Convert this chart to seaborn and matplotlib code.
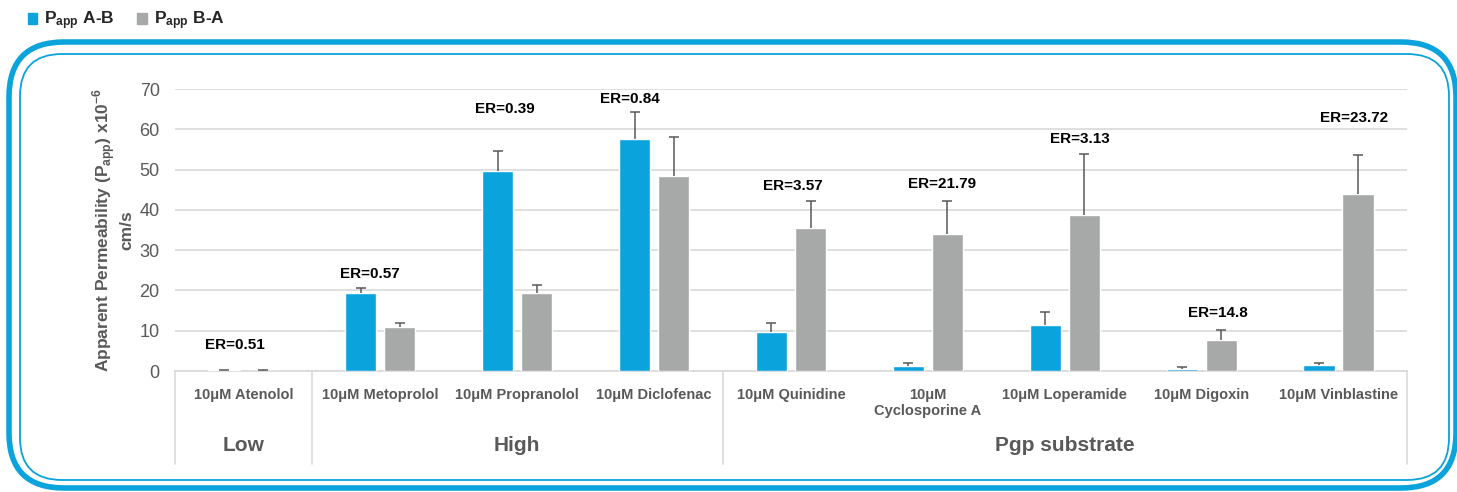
import numpy as np
import pandas as pd
import seaborn as sns
import matplotlib
matplotlib.use('Agg')
import matplotlib.pyplot as plt
from matplotlib.patches import FancyBboxPatch, Patch
from matplotlib import transforms

# 数据
compounds = ['10μM Atenolol', '10μM Metoprolol', '10μM Propranolol', '10μM Diclofenac',
             '10μM Quinidine', '10μM\nCyclosporine A', '10μM Loperamide', '10μM Digoxin',
             '10μM Vinblastine']
groups = ['Low', 'High', 'Pgp substrate']
group_size = [1, 3, 5]
papp_ab = [0.2, 19.4, 49.7, 57.5, 9.8, 1.3, 11.4, 0.4, 1.6]
papp_ab_err = [0.1, 1.3, 4.9, 6.7, 2.2, 0.8, 3.35, 0.5, 0.3]
papp_ba = [0.1, 11.0, 19.3, 48.5, 35.6, 34.0, 38.8, 7.8, 43.9]
papp_ba_err = [0.05, 0.8, 2.0, 9.5, 6.5, 8.3, 15.0, 2.4, 9.7]
er_values = ['0.51', '0.57', '0.39', '0.84', '3.57', '21.79', '3.13', '14.8', '23.72']
directions = ['A-B', 'B-A']

# ER标签位置(手动)
er_y = [6.4, 24.2, 65.0, 67.5, 46.0, 46.3, 57.5, 14.5, 62.8]
er_dx = [-0.06, -0.08, -0.09, -0.18, 0.01, 0.10, 0.11, 0.12, 0.11]

blue = '#0ba3db'
gray = '#a7a9a9'
txt = '#595959'
line_c = '#d9d9d9'

df = pd.DataFrame({
    'compound': compounds * 2,
    'papp': papp_ab + papp_ba,
    'direction': [directions[0]] * len(compounds) + [directions[1]] * len(compounds),
})

sns.set_style('white')
plt.rcParams['font.family'] = ['Liberation Sans Narrow', 'Liberation Sans', 'DejaVu Sans']
plt.rcParams['mathtext.fontset'] = 'custom'
plt.rcParams['mathtext.rm'] = 'Liberation Sans'
plt.rcParams['mathtext.bf'] = 'Liberation Sans:bold'

fig = plt.figure(figsize=(14.57, 4.92), dpi=100)
ax = fig.add_axes([175 / 1457, 1 - 371 / 492, (1407 - 175) / 1457, (371 - 89) / 492])

sns.barplot(data=df, x='compound', y='papp', hue='direction', palette=[blue, gray],
            saturation=1, width=0.57, gap=0.2, errorbar=None, legend=False, ax=ax, zorder=3)

# 误差线(只向上)
for cont, err in zip(ax.containers, [papp_ab_err, papp_ba_err]):
    xs = [b.get_x() + b.get_width() / 2 for b in cont]
    ys = [b.get_height() for b in cont]
    eb = ax.errorbar(xs, ys, yerr=[np.zeros(len(err)), err], fmt='none', ecolor=txt,
                     elinewidth=1.1, capsize=3.5, capthick=1.1, zorder=4)
    eb[1][0].set_visible(False)  # 去掉下方的cap

# ER标签
for i, (er, y, dx) in enumerate(zip(er_values, er_y, er_dx)):
    ax.text(i + dx, y, 'ER=' + er, ha='center', va='center', fontsize=11,
            fontweight='bold', color='black')

ax.set_ylim(0, 70)
ax.set_xlim(-0.5, len(compounds) - 0.5)
ax.set_yticks(range(0, 71, 10))
ax.yaxis.grid(True, color=line_c, lw=1.2)
ax.set_axisbelow(True)
for s in ['left', 'right', 'top']:
    ax.spines[s].set_visible(False)
ax.spines['bottom'].set_color(line_c)
ax.spines['bottom'].set_linewidth(1.2)
ax.tick_params(axis='y', length=0, pad=11, labelsize=13, labelcolor=txt)
ax.tick_params(axis='x', length=0, pad=12, labelsize=10.5, labelcolor=txt)
for lab in ax.get_xticklabels():
    lab.set_fontweight('bold')
ax.set_xlabel('')
ax.set_ylabel('Apparent Permeability (P$_{\\mathbf{app}}$) x10$^{\\mathbf{-6}}$\ncm/s',
              fontsize=12.5, fontweight='bold', color=txt, labelpad=4, linespacing=1.1)

# 分组框线和分组标签
trans = transforms.blended_transform_factory(ax.transData, ax.transAxes)
edges = np.concatenate([[0], np.cumsum(group_size)]) - 0.5
for e in edges:
    ax.plot([e, e], [0, -0.33], color=line_c, lw=1.2, transform=trans, clip_on=False)
for g, a, b in zip(groups, edges[:-1], edges[1:]):
    ax.text((a + b) / 2, -0.265, g, ha='center', va='center', fontsize=15,
            fontweight='bold', color=txt, transform=trans)

# 圆角边框
def px_box(x0, y0, x1, y1, r, lw):
    p = FancyBboxPatch((x0 / 100, (492 - y1) / 100), (x1 - x0) / 100, (y1 - y0) / 100,
                       boxstyle='round,pad=0,rounding_size=%f' % (r / 100),
                       transform=fig.dpi_scale_trans, fill=False, ec=blue, lw=lw)
    fig.add_artist(p)

px_box(9, 42, 1456, 488, 55, 4.0)
px_box(20, 54, 1449, 480, 42, 1.3)

# 图例
handles = [Patch(color=blue), Patch(color=gray)]
labels = ['$\\mathbf{P_{app}}$ A-B', '$\\mathbf{P_{app}}$ B-A']
leg = fig.legend(handles, labels, loc='upper left', bbox_to_anchor=(12 / 1457, 1.012),
                 ncol=2, frameon=False, handlelength=0.55, handleheight=0.55,
                 handletextpad=0.4, columnspacing=1.3, prop={'size': 12.5, 'weight': 'bold'})

fig.savefig('out.png', dpi=100)
